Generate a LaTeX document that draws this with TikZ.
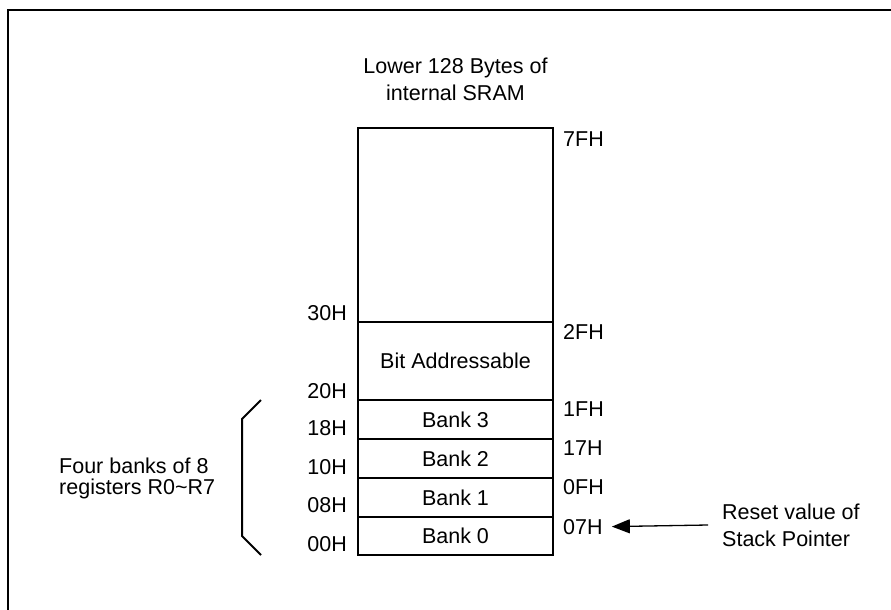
\documentclass[tikz,border=0pt]{standalone}
\usepackage{fontspec}
\setmainfont{Liberation Sans}
\usetikzlibrary{arrows.meta}
\begin{document}
\begin{tikzpicture}[x=1pt,y=-1pt,
  font=\fontsize{21.5}{27}\selectfont,
  cell/.style={draw, line width=1.3pt, minimum width=195pt, inner sep=0pt, outer sep=0pt, anchor=north west},
  addrl/.style={inner sep=0pt, anchor=base east},
  addrr/.style={inner sep=0pt, anchor=base west},
  frameline/.style={line width=2pt},
  bracketline/.style={line width=2pt, line join=miter},
  ptr/.style={line width=1.3pt, -{Triangle[length=18pt,width=14pt]}}]
\useasboundingbox (0,0) rectangle (891,610);
% outer frame (cropped)
\draw[frameline] (8,620) -- (8,10) -- (900,10);
% title (base anchor = last line)
\node[inner sep=0pt, anchor=base, align=center] (title) at (455.5,100) {Lower 128 Bytes of\\internal SRAM};
% memory cells
\node[cell, minimum height=194pt] (free) at (358,128) {};
\node[cell, minimum height=78pt] (bit) at (358,322) {Bit Addressable};
\node[cell, minimum height=39pt] (b3) at (358,400) {Bank 3};
\node[cell, minimum height=39pt] (b2) at (358,439) {Bank 2};
\node[cell, minimum height=39pt] (b1) at (358,478) {Bank 1};
\node[cell, minimum height=38pt] (b0) at (358,517) {Bank 0};
% left addresses
\node[addrl] (l30) at (347,320.7) {30H};
\node[addrl] (l20) at (347,398.3) {20H};
\node[addrl] (l18) at (347,435) {18H};
\node[addrl] (l10) at (347,474.3) {10H};
\node[addrl] (l08) at (347,512.7) {08H};
\node[addrl] (l00) at (347,551.7) {00H};
% right addresses
\node[addrr] (l7F) at (563,146.7) {7FH};
\node[addrr] (l2F) at (563,339.3) {2FH};
\node[addrr] (l1F) at (563,416) {1FH};
\node[addrr] (l17) at (563,455) {17H};
\node[addrr] (l0F) at (563,494.3) {0FH};
\node[addrr] (l07) at (563,534) {07H};
% bracket
\draw[bracketline] (261,400) -- (242,419) -- (242,536) -- (261,555);
\node[inner sep=0pt, anchor=base west, align=left, font=\fontsize{21.5}{21}\selectfont] (four) at (59,494) {Four banks of 8\\registers R0\textasciitilde R7};
% reset pointer
\node[inner sep=0pt, anchor=base west, align=left] (reset) at (722,546) {Reset value of\\Stack Pointer};
\coordinate (ptrstart) at (708,525);
\draw[ptr] (ptrstart) -- ([xshift=9pt]l07.east);
\end{tikzpicture}
\end{document}
